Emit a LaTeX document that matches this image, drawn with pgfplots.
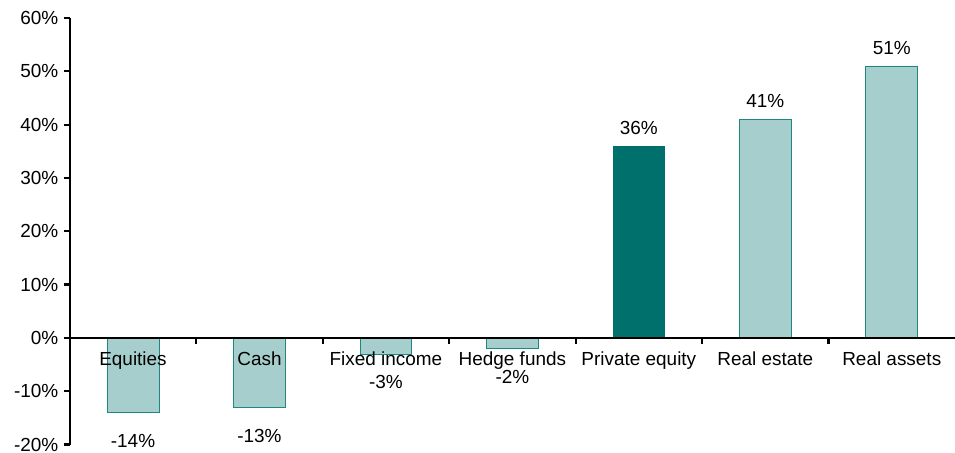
\documentclass[border=0pt]{standalone}
\usepackage{pgfplots}
\pgfplotsset{compat=1.18}
\usepackage{fontspec}
\setmainfont{Liberation Sans}
\definecolor{lightteal}{RGB}{166,206,205}
\definecolor{tealedge}{RGB}{30,135,130}
\definecolor{darkteal}{RGB}{0,112,108}
\begin{document}
\begin{tikzpicture}
\begin{axis}[
    scale only axis,
    width=888pt,
    height=428pt,
    ybar,
    bar width=52pt,
    bar shift=0pt,
    xmin=-0.5, xmax=6.5,
    ymin=-20, ymax=60,
    axis x line=middle,
    axis y line=left,
    axis on top,
    axis line style={-, line width=2.2pt, black},
    tick align=outside,
    xtick={0.5,1.5,...,5.5},
    xticklabels={},
    extra x ticks={0,...,6},
    extra x tick labels={Equities,Cash,Fixed income,Hedge funds,Private equity,Real estate,Real assets},
    extra x tick style={major tick length=0pt},
    ytick={-20,-10,...,60},
    yticklabel={\pgfmathparse{int(\tick)}\pgfmathresult\%},
    tick style={line width=2.2pt, black},
    major tick length=6pt,
    tick label style={font=\fontsize{19}{21}\selectfont, text=black},
    x tick label style={yshift=-10pt},
    y tick label style={xshift=-2pt},
    /pgf/number format/assume math mode=true,
    nodes near coords={\pgfmathprintnumber{\pgfplotspointmeta}\%},
    nodes near coords style={font=\fontsize{19}{21}\selectfont, text=black},
    clip=false,
]
\addplot[fill=lightteal, draw=tealedge, line width=0.8pt,
    visualization depends on={y \as \yval},
    every node near coord/.append style={yshift={\yval<0 ? -18pt : 8pt}}]
    coordinates {(0,-14) (1,-13) (2,-3) (3,-2) (5,41) (6,51)};
\addplot[fill=darkteal, draw=darkteal, line width=0.8pt,
    every node near coord/.append style={yshift=8pt}]
    coordinates {(4,36)};
\end{axis}
\pgfresetboundingbox
\path[use as bounding box] ([xshift=-70pt,yshift=-8pt]current axis.south west) rectangle ([yshift=18pt]current axis.north east);
\end{tikzpicture}
\end{document}
